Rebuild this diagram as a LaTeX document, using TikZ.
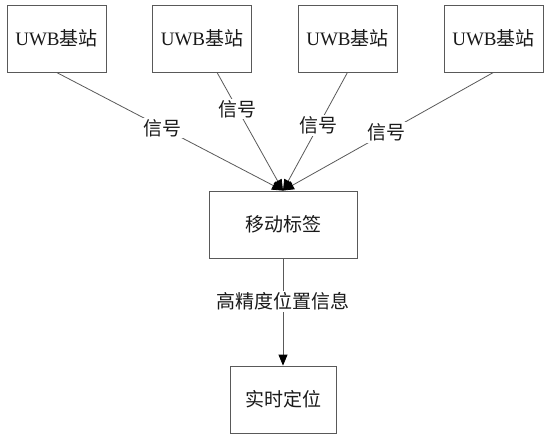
\documentclass[tikz,border=0pt]{standalone}
\usepackage{fontspec}
\setmainfont{Liberation Serif}
\newfontfamily\cjk{Noto Sans CJK SC}
\usetikzlibrary{arrows.meta}
\begin{document}
\begin{tikzpicture}[x=1pt,y=-1pt,
  box/.style={draw=black!65,line width=0.8pt,minimum width=99pt,minimum height=67pt,inner sep=0pt,text=black!90,font=\fontsize{19}{22}\selectfont},
  conn/.style={draw=black!65,line width=0.8pt},
  tip/.style={-{Triangle[length=11pt,width=9pt,color=black]},conn},
  lbl/.style={fill=white,inner sep=1.5pt,text=black!90,font=\fontsize{19}{22}\selectfont\cjk}]
\useasboundingbox (0,0) rectangle (550,439);
\node[box] (b1) at (56.5,38.5) {UWB{\cjk 基站}};
\node[box] (b2) at (202,38.5) {UWB{\cjk 基站}};
\node[box] (b3) at (347.5,38.5) {UWB{\cjk 基站}};
\node[box] (b4) at (493.5,38.5) {UWB{\cjk 基站}};
\node[box,minimum width=148pt] (m) at (283,224.5) {\cjk 移动标签};
\node[box,minimum width=106pt] (r) at (283,399.5) {\cjk 实时定位};
\draw[tip] (b1.south) -- node[lbl,pos=0.47] {信号} (m.north);
\draw[tip] ([xshift=15pt]b2.south) -- node[lbl,pos=0.31] {信号} (m.north);
\draw[tip] (b3.south) -- node[lbl,pos=0.45] {信号} (m.north);
\draw[tip] (b4.south) -- node[lbl,pos=0.51] {信号} (m.north);
\draw[tip] (m.south) -- node[lbl,pos=0.4] {高精度位置信息} (r.north);
\end{tikzpicture}
\end{document}
